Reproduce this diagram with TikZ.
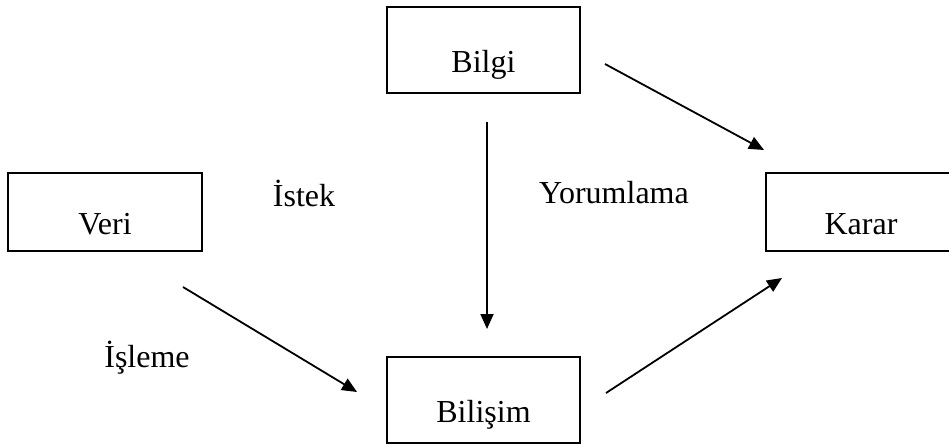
\documentclass[tikz,border=0pt]{standalone}
\usepackage{fontspec}
\setmainfont{Liberation Serif}
\usetikzlibrary{arrows.meta}
\begin{document}
\begin{tikzpicture}[x=1pt,y=-1pt,
  box/.style={draw=black,line width=2pt,rectangle,inner sep=0pt,
    text height=44pt,text depth=0pt,font=\fontsize{32}{36}\selectfont},
  lbl/.style={inner sep=0pt,font=\fontsize{32}{36}\selectfont},
  conn/.style={line width=1.8pt,-{Triangle[length=15pt,width=13pt]}}]
\useasboundingbox (0,0) rectangle (949,444);
\node[box,minimum width=193pt,minimum height=86pt] (bilgi) at (483.5,50) {Bilgi};
\node[box,minimum width=194pt,minimum height=78pt] (veri) at (105,212) {Veri};
\node[box,minimum width=193pt,minimum height=86pt] (bilisim) at (483.5,400) {Bilişim};
\node[box,minimum width=210pt,minimum height=78pt,anchor=west] (karar) at (765,212) {\hspace*{-20pt}Karar};
\node[lbl] (istek) at (304,193) {İstek};
\node[lbl] (yorum) at (614,193) {Yorumlama};
\node[lbl] (isleme) at (147,358) {İşleme};
\coordinate (a1) at (605,64);
\coordinate (a2) at (764,150);
\coordinate (b1) at (487,122);
\coordinate (b2) at (487,329);
\coordinate (c1) at (183,287);
\coordinate (c2) at (357,392);
\coordinate (d1) at (606,393);
\coordinate (d2) at (782,278);
\draw[conn] (a1) -- (a2);
\draw[conn] (b1) -- (b2);
\draw[conn] (c1) -- (c2);
\draw[conn] (d1) -- (d2);
\end{tikzpicture}
\end{document}
